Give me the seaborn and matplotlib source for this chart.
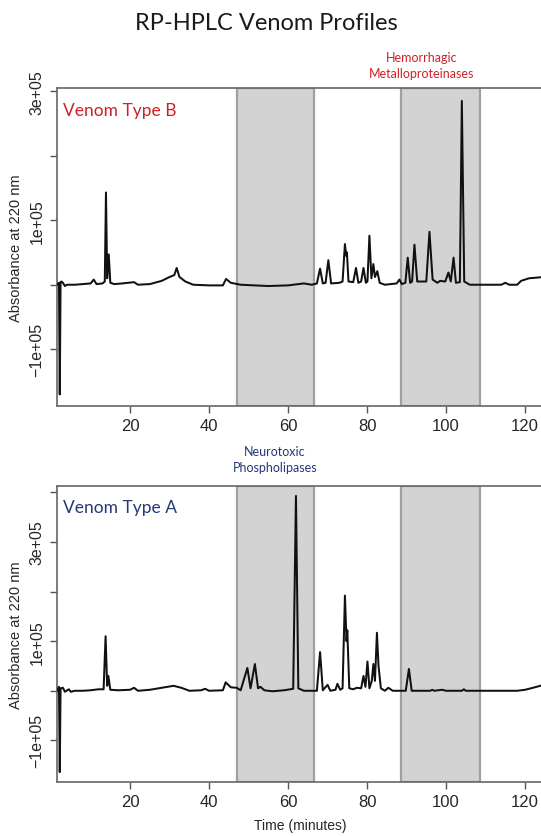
import numpy as np
import pandas as pd
import matplotlib
matplotlib.use("Agg")
import matplotlib.pyplot as plt
import seaborn as sns

# ---- chromatogram traces (time in minutes, absorbance at 220 nm) ----
time_b = [1.5, 2.0, 2.2, 2.4, 2.6, 3.0, 3.5, 4.0, 6.0, 8.0, 10.0, 10.8, 11.5, 13.0, 13.6,
          13.9, 14.2, 14.6, 15.0, 16.0, 18.0, 21.0, 22.0, 25.0, 28.0, 30.0, 31.2, 31.8,
          32.5, 34.0, 36.0, 40.0, 43.5, 44.3, 45.5, 48.0, 55.0, 60.0, 64.0, 66.0, 67.3,
          68.1, 68.8, 69.5, 70.2, 70.9, 73.0, 73.8, 74.4, 74.7, 74.9, 75.3, 76.5, 77.2,
          77.8, 78.5, 79.1, 79.7, 80.1, 80.6, 81.1, 81.6, 82.0, 82.6, 83.2, 84.5, 87.5,
          88.2, 88.8, 89.7, 90.3, 90.9, 91.4, 92.0, 92.7, 95.0, 95.8, 96.6, 97.8, 98.5,
          99.8, 100.6, 101.2, 101.9, 102.5, 103.5, 104.0, 104.6, 106.0, 110.0, 114.0,
          115.0, 116.0, 118.0, 119.0, 121.0, 124.8]
abs_b = [0, 3000, -170000, 4000, 5000, 3000, -2000, 0, 0, 1000, 2000, 8000, 1000, 2000, 5000,
         143000, 10000, 47000, 3000, 1000, 2000, 4000, 0, 1000, 6000, 12000, 15000, 26000,
         12000, 5000, 0, -1000, -1000, 9000, 3000, 0, -2000, -1000, 2000, 0, 2000,
         25000, 2000, 3000, 38000, 2000, 3000, 5000, 63000, 45000, 50000, 5000, 4000, 26000,
         3000, 5000, 26000, 3000, 5000, 76000, 10000, 32000, 12000, 21000, 3000, 0, 2000,
         8000, 1000, 3000, 42000, 3000, 5000, 62000, 5000, 5000, 82000, 8000, 3000, 6000,
         5000, 19000, 5000, 42000, 3000, 4000, 285000, 5000, 0, 0, 0,
         3000, 0, 0, 6000, 10000, 12000]

time_a = [1.5, 2.0, 2.2, 2.4, 3.0, 3.5, 4.5, 5.0, 6.0, 8.0, 10.0, 12.0, 13.3, 13.8, 14.2,
          14.5, 15.0, 17.0, 20.0, 21.0, 22.0, 25.0, 28.0, 31.0, 33.0, 35.0, 38.0, 39.0,
          40.0, 43.5, 44.2, 45.5, 47.0, 48.0, 49.7, 50.5, 51.6, 52.4, 53.0, 54.0, 56.0,
          59.0, 61.3, 62.0, 62.6, 64.0, 67.3, 68.1, 68.8, 70.0, 70.7, 72.0, 72.5, 73.2,
          73.8, 74.4, 74.8, 75.0, 75.5, 76.5, 77.4, 78.5, 79.1, 79.6, 80.1, 80.6, 81.2,
          81.6, 82.0, 82.5, 82.9, 83.5, 84.5, 85.4, 86.5, 89.8, 90.6, 91.3, 96.0, 96.5,
          97.0, 99.0, 100.0, 104.0, 104.5, 105.0, 110.0, 118.0, 120.0, 122.0, 124.8]
abs_a = [0, 8000, -164000, 5000, 6000, -2000, 3000, -2000, 0, 0, 1000, 3000, 3000, 110000, 10000,
         30000, 2000, 1000, 2000, 6000, 0, 2000, 6000, 10000, 6000, 0, 1000, 4000,
         0, 1000, 17000, 7000, 6000, 1000, 46000, 5000, 54000, 5000, 8000, 1000, -1000,
         1000, 4000, 393000, 5000, 0, 0, 78000, 1000, 12000, 0, 2000, 14000, 2000,
         5000, 192000, 100000, 122000, 5000, 3000, 6000, 5000, 30000, 8000, 59000, 5000, 20000,
         54000, 20000, 117000, 50000, 5000, 0, 6000, 0, 0, 44000, 0, 0, 2000,
         0, 2000, 0, 0, 3000, 0, 0, 0, 2000, 6000, 12000]

# fraction windows (minutes)
phospholipase_window = (47.0, 66.5)
metalloproteinase_window = (88.7, 108.5)

title = "RP-HPLC Venom Profiles"
panel_labels = ["Venom Type B", "Venom Type A"]
x_ticks = [20, 40, 60, 80, 100, 120]

RED = "#cf2027"
BLUE = "#24397a"

sns.set_style("ticks")
plt.rcParams["font.family"] = ["Liberation Sans", "DejaVu Sans"]

fig = plt.figure(figsize=(5.41, 8.37), dpi=100)
W, H = 541, 837


def px_axes(left, top, right, bottom):
    return fig.add_axes([left / W, 1 - bottom / H, (right - left) / W, (bottom - top) / H])


ax_b = px_axes(57, 89, 544, 407)
ax_a = px_axes(57, 487, 544, 783)

df_b = pd.DataFrame({"time": time_b, "absorbance": abs_b})
df_a = pd.DataFrame({"time": time_a, "absorbance": abs_a})

panels = [
    (ax_b, df_b, (-188000, 305000), [-1e5, 0, 1e5, 2e5, 3e5],
     ["\u22121e+05", "", "1e+05", "", "3e+05"], panel_labels[0], RED),
    (ax_a, df_a, (-184000, 413000), [-1e5, 0, 1e5, 2e5, 3e5, 4e5],
     ["\u22121e+05", "", "1e+05", "", "3e+05", ""], panel_labels[1], BLUE),
]

for ax, df, ylim, yt, ytl, lab, col in panels:
    for lo, hi in (phospholipase_window, metalloproteinase_window):
        ax.axvspan(lo, hi, facecolor="#d3d3d3", edgecolor="#a0a0a0", lw=1.6, zorder=0)
    sns.lineplot(data=df, x="time", y="absorbance", ax=ax, color="#111111",
                 lw=1.45, estimator=None, sort=False, zorder=3)
    ax.set_xlim(1.5, 124.8)
    ax.set_ylim(*ylim)
    ax.set_xticks(x_ticks)
    ax.set_xticklabels([str(t) for t in x_ticks], fontsize=12)
    ax.set_yticks(yt)
    ax.set_yticklabels(ytl, fontsize=11.5, rotation=90, va="center")
    ax.tick_params(axis="both", direction="out", length=5, width=1.0,
                   color="#555555", pad=4)
    ax.set_xlabel("")
    ax.set_ylabel("Absorbance at 220 nm", fontsize=10.5, labelpad=5)
    for s in ax.spines.values():
        s.set_color("#666666")
        s.set_linewidth(1.2)
    ax.text(0.013, 0.955, lab, transform=ax.transAxes, color=col, fontsize=12.5,
            family=["Lato", "DejaVu Sans"], ha="left", va="top")

ax_a.set_xlabel("Time (minutes)", fontsize=10, labelpad=6)

fig.text(266 / W, 1 - 24 / H, title, ha="center", va="center", fontsize=17,
         family=["Lato", "DejaVu Sans"], color="#1a1a1a")
fig.text(422 / W, 1 - 66 / H, "Hemorrhagic\nMetalloproteinases", ha="center",
         va="center", fontsize=9, color=RED, family=["Lato", "DejaVu Sans"],
         linespacing=1.35)
fig.text(275 / W, 1 - 460 / H, "Neurotoxic\nPhospholipases", ha="center",
         va="center", fontsize=9, color=BLUE, family=["Lato", "DejaVu Sans"],
         linespacing=1.35)

fig.savefig("out.png", dpi=100)
